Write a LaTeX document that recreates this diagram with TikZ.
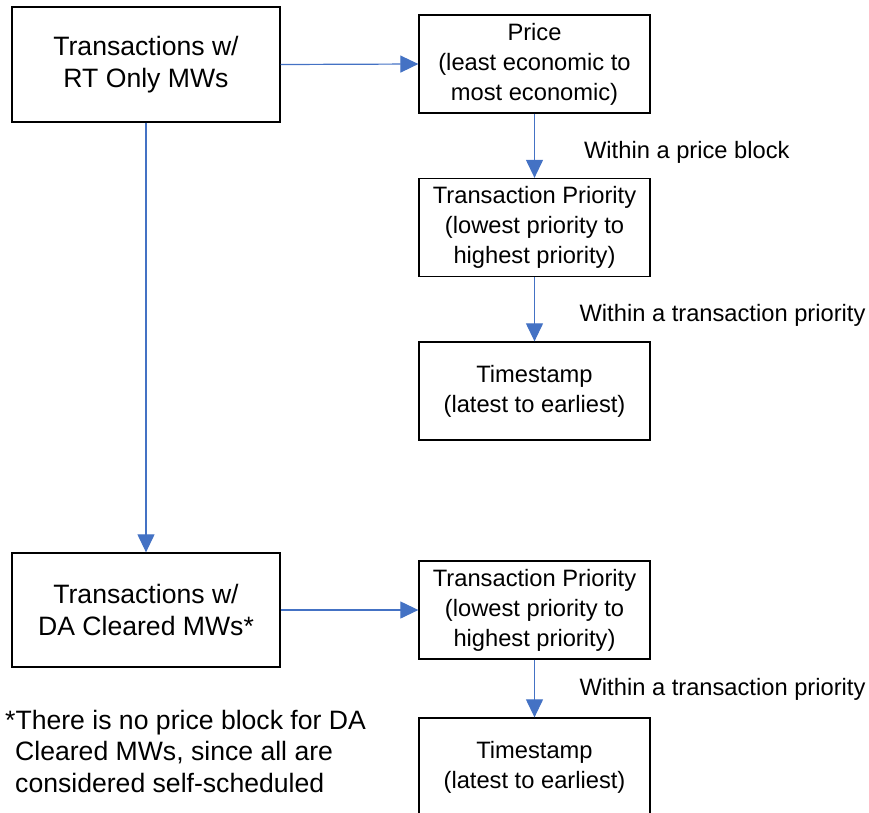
\documentclass[tikz,border=0pt]{standalone}
\usepackage{fontspec}
\setmainfont{Liberation Sans}
\usetikzlibrary{arrows.meta,positioning}
\definecolor{arrblue}{HTML}{4472C4}

\begin{document}
\begin{tikzpicture}[x=1pt,y=-1pt,
  big/.style={draw,line width=1.3pt,align=center,minimum width=268pt,minimum height=#1,font=\fontsize{26.6}{32}\selectfont},
  blk/.style={draw,line width=1.3pt,align=center,minimum width=231pt,minimum height=98pt,font=\fontsize{23.7}{30}\selectfont},
  arr/.style={-{Triangle[length=18pt,width=17pt]},arrblue,line width=1.2pt},
  lbl/.style={right,inner sep=0pt,text=black,font=\fontsize{23.7}{28}\selectfont}]
\useasboundingbox (0,0) rectangle (869,812);
\node[big=115pt] (rt) at (146,64.5) {Transactions w/\\RT Only MWs};
\node[big=114pt] (da) at (146,610) {Transactions w/\\DA Cleared MWs*};
\node[blk] (price) at (534.5,64) {Price\\(least economic to\\most economic)};
\node[blk] (prio) at (534.5,227.5) {Transaction Priority\\(lowest priority to\\highest priority)};
\node[blk] (stamp) at (534.5,391) {Timestamp\\(latest to earliest)};
\node[blk] (daprio) at (534.5,610) {Transaction Priority\\(lowest priority to\\highest priority)};
\node[blk] (dastamp) at (534.5,767) {Timestamp\\(latest to earliest)};
\node[anchor=west,align=left,inner sep=0pt,font=\fontsize{26.6}{31.5}\selectfont] (note) at (5,751)
  {*There is no price block for DA\\\hspace*{10pt}Cleared MWs, since all are\\\hspace*{10pt}considered self-scheduled};
\draw[arr] (rt.east) -- (price.west);
\draw[arr] (price.south) -- node[lbl,pos=0.6,xshift=49pt]{Within a price block} (prio.north);
\draw[arr] (prio.south) -- node[lbl,pos=0.6,xshift=44.5pt]{Within a transaction priority} (stamp.north);
\draw[arr] (rt.south) -- (da.north);
\draw[arr] (da.east) -- (daprio.west);
\draw[arr] (daprio.south) -- node[lbl,pos=0.52,xshift=44.5pt]{Within a transaction priority} (dastamp.north);
\end{tikzpicture}
\end{document}
